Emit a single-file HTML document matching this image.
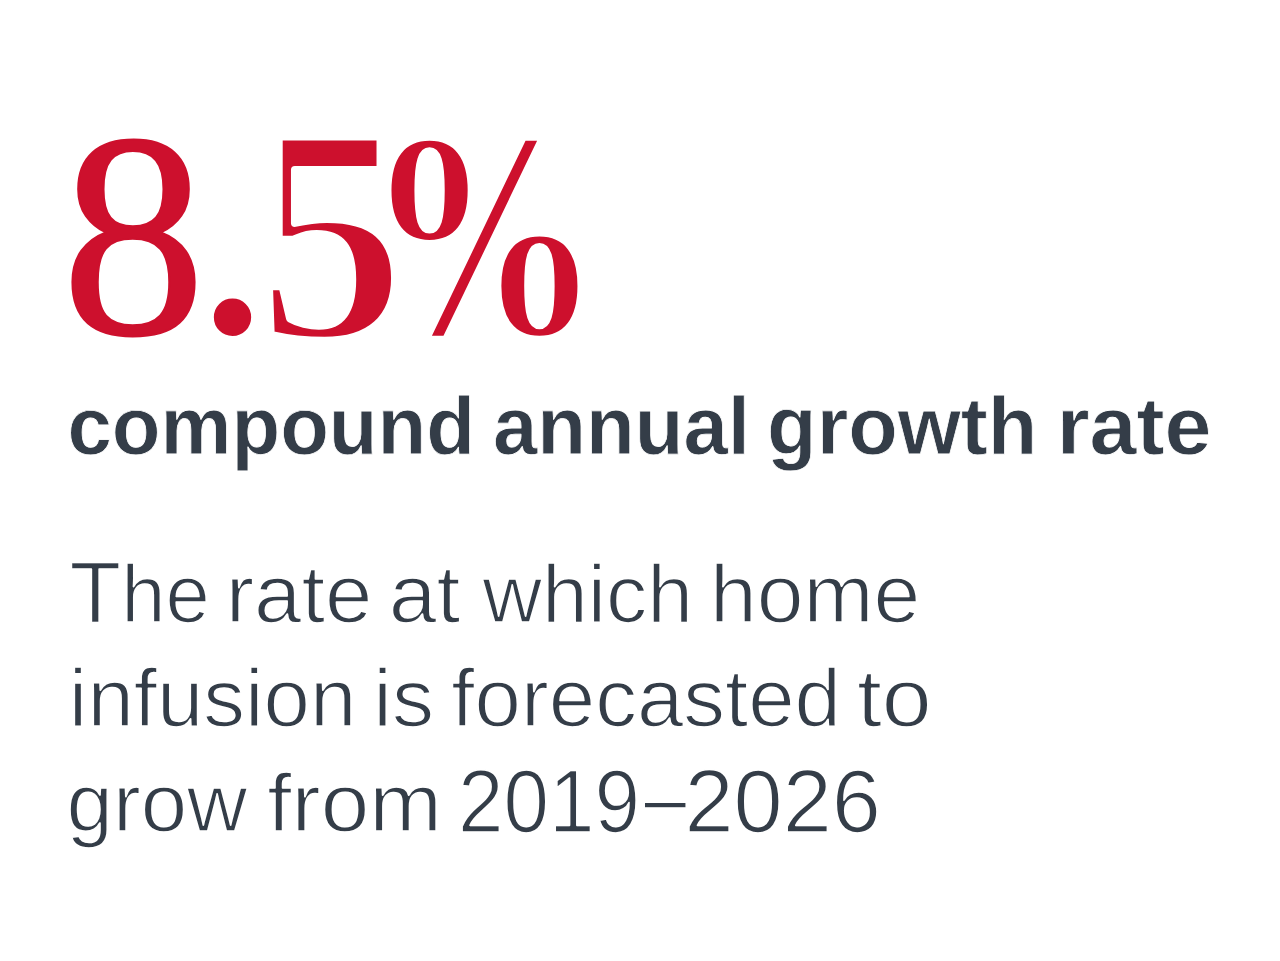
<!DOCTYPE html>
<html lang="en"><head><meta charset="utf-8"><title>8.5% compound annual growth rate</title>
<style>html,body{margin:0;padding:0;background:#fff;width:1280px;height:961px;overflow:hidden}svg{display:block}</style>
</head><body>
<svg width="1280" height="961" viewBox="0 0 1280 961">
<rect width="1280" height="961" fill="#fff"/>
<text transform="translate(61.44 333.65) scale(2.8825 2.9181)" font-family='"Liberation Serif", serif' font-weight="normal" font-size="100" fill="#CD102D" stroke="#CD102D" stroke-width="0.690" stroke-linejoin="round">8</text>
<text transform="translate(203.74 332.69) scale(2.3008 2.3125)" font-family='"Liberation Serif", serif' font-weight="bold" font-size="100" fill="#CD102D">.</text>
<text transform="translate(257.13 337.90) scale(2.9748 3.0752)" font-family='"Liberation Serif", serif' font-weight="bold" font-size="100" fill="#CD102D" stroke="#fff" stroke-width="2.645" stroke-linejoin="round">5</text>
<text transform="translate(383.74 335.32) scale(2.1213 2.6663)" font-family='"DejaVu Serif", serif' font-weight="bold" font-size="100" fill="#CD102D" stroke="#fff" stroke-width="2.523" stroke-linejoin="round">%</text>
<text transform="translate(67.51 454.30) scale(0.7974 0.8200)" font-family='"Liberation Sans", sans-serif' font-weight="bold" font-size="100" fill="#343D48" stroke="#fff" stroke-width="0.989" stroke-linejoin="round">compound</text>
<text transform="translate(492.95 454.30) scale(0.7975 0.8200)" font-family='"Liberation Sans", sans-serif' font-weight="bold" font-size="100" fill="#343D48" stroke="#fff" stroke-width="0.989" stroke-linejoin="round">annual</text>
<text transform="translate(767.11 454.30) scale(0.8110 0.8200)" font-family='"Liberation Sans", sans-serif' font-weight="bold" font-size="100" fill="#343D48" stroke="#fff" stroke-width="0.981" stroke-linejoin="round">growth</text>
<text transform="translate(1056.69 454.30) scale(0.8439 0.8200)" font-family='"Liberation Sans", sans-serif' font-weight="bold" font-size="100" fill="#343D48" stroke="#fff" stroke-width="0.962" stroke-linejoin="round">rate</text>
<text transform="translate(69.61 621.70) scale(0.7964 0.8200)" font-family='"Liberation Sans", sans-serif' font-weight="normal" font-size="100" fill="#343D48" stroke="#fff" stroke-width="1.980" stroke-linejoin="round"><tspan font-size="106">T</tspan>he</text>
<text transform="translate(225.74 621.70) scale(0.8516 0.8200)" font-family='"Liberation Sans", sans-serif' font-weight="normal" font-size="100" fill="#343D48" stroke="#fff" stroke-width="1.915" stroke-linejoin="round">rate</text>
<text transform="translate(388.76 621.70) scale(0.8591 0.8200)" font-family='"Liberation Sans", sans-serif' font-weight="normal" font-size="100" fill="#343D48" stroke="#fff" stroke-width="1.906" stroke-linejoin="round">at</text>
<text transform="translate(482.44 621.70) scale(0.8237 0.8200)" font-family='"Liberation Sans", sans-serif' font-weight="normal" font-size="100" fill="#343D48" stroke="#fff" stroke-width="1.947" stroke-linejoin="round">which</text>
<text transform="translate(710.07 621.70) scale(0.8404 0.8200)" font-family='"Liberation Sans", sans-serif' font-weight="normal" font-size="100" fill="#343D48" stroke="#fff" stroke-width="1.927" stroke-linejoin="round">home</text>
<text transform="translate(68.86 725.70) scale(0.8341 0.8200)" font-family='"Liberation Sans", sans-serif' font-weight="normal" font-size="100" fill="#343D48" stroke="#fff" stroke-width="1.935" stroke-linejoin="round">infusion</text>
<text transform="translate(373.30 725.70) scale(0.8411 0.8200)" font-family='"Liberation Sans", sans-serif' font-weight="normal" font-size="100" fill="#343D48" stroke="#fff" stroke-width="1.927" stroke-linejoin="round">is</text>
<text transform="translate(451.37 725.70) scale(0.8346 0.8200)" font-family='"Liberation Sans", sans-serif' font-weight="normal" font-size="100" fill="#343D48" stroke="#fff" stroke-width="1.934" stroke-linejoin="round">forecasted</text>
<text transform="translate(856.90 725.70) scale(0.8975 0.8200)" font-family='"Liberation Sans", sans-serif' font-weight="normal" font-size="100" fill="#343D48" stroke="#fff" stroke-width="1.865" stroke-linejoin="round">to</text>
<text transform="translate(66.61 830.90) scale(0.8339 0.8200)" font-family='"Liberation Sans", sans-serif' font-weight="normal" font-size="100" fill="#343D48" stroke="#fff" stroke-width="1.935" stroke-linejoin="round">grow</text>
<text transform="translate(267.33 830.90) scale(0.8729 0.8200)" font-family='"Liberation Sans", sans-serif' font-weight="normal" font-size="100" fill="#343D48" stroke="#fff" stroke-width="1.891" stroke-linejoin="round">from</text>
<text transform="translate(458.00 831.62) scale(0.8184 0.8817)" font-family='"Liberation Sans", sans-serif' font-weight="normal" font-size="100" fill="#343D48" stroke="#fff" stroke-width="1.884" stroke-linejoin="round">2019</text>
<text transform="translate(644.20 827.78) scale(0.7552 0.8823)" font-family='"Liberation Sans", sans-serif' font-weight="normal" font-size="100" fill="#343D48" stroke="#fff" stroke-width="1.960" stroke-linejoin="round">–</text>
<text transform="translate(684.38 831.61) scale(0.8836 0.8949)" font-family='"Liberation Sans", sans-serif' font-weight="normal" font-size="100" fill="#343D48" stroke="#fff" stroke-width="1.799" stroke-linejoin="round">2026</text>
</svg>
</body></html>
